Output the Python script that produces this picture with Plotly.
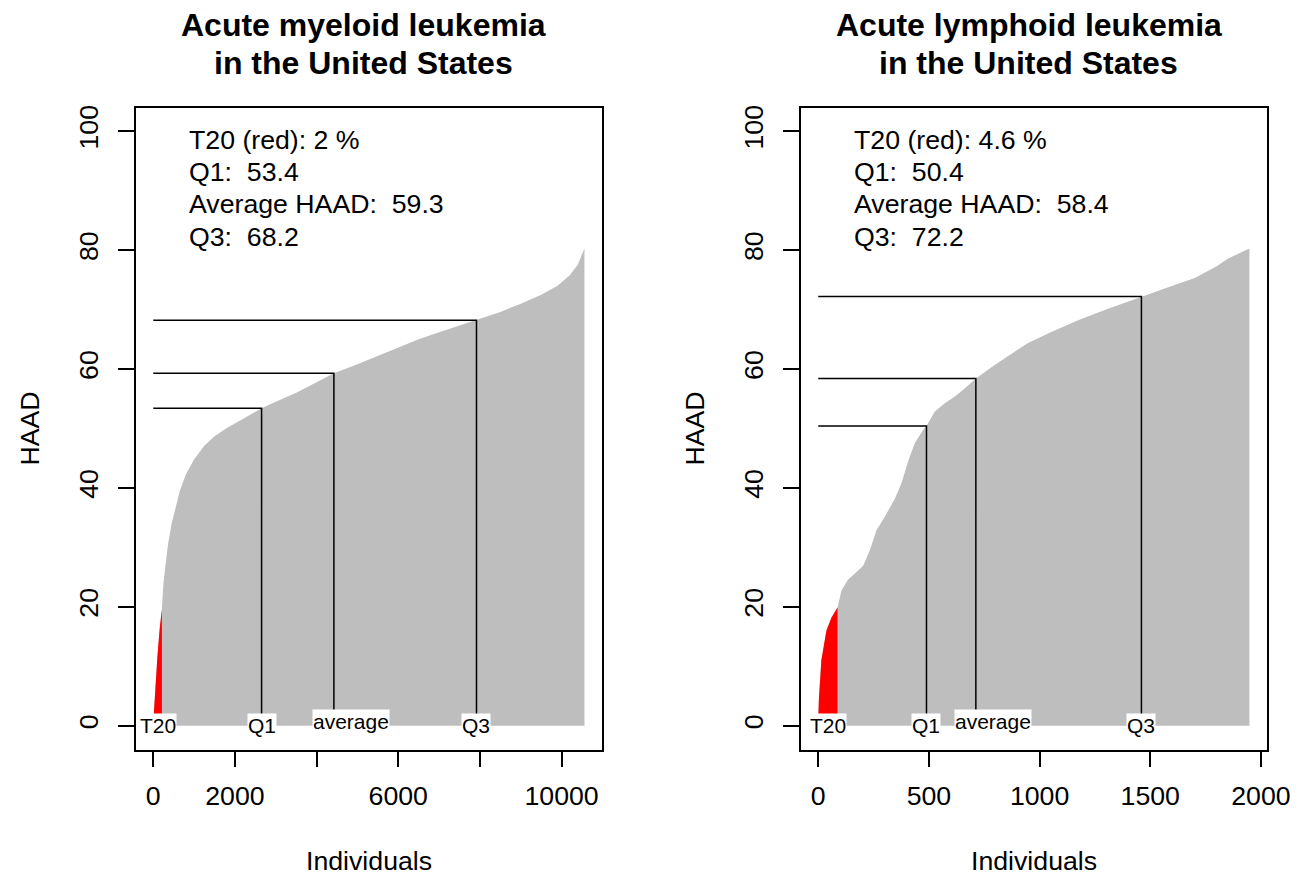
import plotly.graph_objects as go

# ---------------- data ----------------
aml_individuals = [0, 50, 100, 160, 211, 250, 300, 360, 450, 550, 650, 800, 1000, 1250, 1500,
                   1800, 2100, 2400, 2653, 3000, 3500, 4000, 4424, 5000, 5500, 6000, 6500, 7000,
                   7500, 7916, 8500, 9000, 9500, 9900, 10200, 10400, 10560]
aml_haad = [0.5, 6.5, 11.5, 16.5, 19.5, 24, 27.5, 30.5, 34, 37, 39.5, 42.3, 44.8, 47.1, 48.7,
            50.1, 51.3, 52.4, 53.4, 54.5, 56, 57.8, 59.3, 60.8, 62.2, 63.6, 65, 66.2,
            67.3, 68.2, 69.6, 71, 72.5, 74, 75.8, 77.6, 80.3]

all_individuals = [0, 3, 14, 37, 60, 87, 105, 135, 172, 203, 233, 263, 300, 346, 376, 406, 436,
                   474, 489, 526, 570, 617, 660, 712, 797, 860, 948, 1050, 1174, 1300, 1460,
                   1600, 1701, 1800, 1852, 1900, 1948]
all_haad = [1, 4.5, 11, 16, 18.2, 19.9, 22.8, 24.6, 25.8, 26.9, 29.5, 32.9, 35.1, 38.2, 40.8,
            44.5, 47.5, 49.8, 50.4, 52.8, 54.2, 55.4, 56.7, 58.4, 60.7, 62.3, 64.4, 66.2, 68.2,
            70, 72.2, 74, 75.3, 77.3, 78.6, 79.5, 80.3]

titles = ["Acute myeloid leukemia", "Acute lymphoid leukemia"]
subtitle = "in the United States"
n_total = [10560, 1948]
t20_count = [211, 87]
t20_pct = ["2", "4.6"]
q1_x = [2653, 489]
q1_val = [53.4, 50.4]
avg_x = [4424, 712]
avg_val = [59.3, 58.4]
q3_x = [7916, 1460]
q3_val = [68.2, 72.2]

x_tickvals = [[0, 2000, 4000, 6000, 8000, 10000], [0, 500, 1000, 1500, 2000]]
x_ticktext = [["0", "2000", "", "6000", "", "10000"], ["0", "500", "1000", "1500", "2000"]]
y_tickvals = [0, 20, 40, 60, 80, 100]
x_title = "Individuals"
y_title = "HAAD"

curves = [(aml_individuals, aml_haad), (all_individuals, all_haad)]

# ---------------- layout helpers ----------------
W, H = 1305, 875
FONT = "Liberation Sans, Arial, Helvetica, sans-serif"
GRAY = "#BEBEBE"
box_left = [136, 801]
box_right = [601.7, 1266.7]
box_top, box_bottom = 107.5, 749.5


def px(xp):
    return xp / W


def py(yp):
    return 1 - yp / H


fig = go.Figure()
annotations = []

for i in range(2):
    xa = "x" if i == 0 else "x2"
    ya = "y" if i == 0 else "y2"
    xs, ys = curves[i]

    # gray area
    fig.add_trace(go.Scatter(x=xs, y=ys, mode="lines", fill="tozeroy",
                             fillcolor=GRAY, line=dict(color=GRAY, width=0),
                             xaxis=xa, yaxis=ya, showlegend=False, hoverinfo="skip"))
    # red T20 area
    rx = [x for x in xs if x <= t20_count[i]]
    ry = [y for x, y in zip(xs, ys) if x <= t20_count[i]]
    fig.add_trace(go.Scatter(x=rx, y=ry, mode="lines", fill="tozeroy",
                             fillcolor="#FF0000", line=dict(color="#FF0000", width=0),
                             xaxis=xa, yaxis=ya, showlegend=False, hoverinfo="skip"))
    # quantile lines
    lx, ly = [], []
    for qx, qv in [(q1_x[i], q1_val[i]), (avg_x[i], avg_val[i]), (q3_x[i], q3_val[i])]:
        lx += [0, qx, qx, None]
        ly += [qv, qv, 0, None]
    fig.add_trace(go.Scatter(x=lx, y=ly, mode="lines", line=dict(color="black", width=1.5),
                             xaxis=xa, yaxis=ya, showlegend=False, hoverinfo="skip"))

    # bottom labels
    lab_pos = [(t20_count[i] / 2, "T20", 0, 0), (q1_x[i], "Q1", 0, 0),
               (avg_x[i], "average", 17, 4), (q3_x[i], "Q3", 0, 0)]
    for xv, txt, xs_, ys_ in lab_pos:
        annotations.append(dict(x=xv, y=0, xref=xa, yref=ya, text=txt, showarrow=False,
                                xanchor="center", yanchor="middle", xshift=xs_, yshift=ys_,
                                bgcolor="white", borderpad=0,
                                font=dict(family=FONT, size=21, color="black")))

    # info text
    info = [f"T20 (red): {t20_pct[i]} %",
            f"Q1:\u00a0 {q1_val[i]}",
            f"Average HAAD:\u00a0 {avg_val[i]}",
            f"Q3:\u00a0 {q3_val[i]}"]
    for k, line in enumerate(info):
        annotations.append(dict(x=px(box_left[i] + 50.5), y=py(140 + 32.2 * k), xref="paper",
                                yref="paper", text=line, showarrow=False, xanchor="left",
                                yanchor="middle",
                                font=dict(family=FONT, size=26.7, color="black")))

    cx = (box_left[i] + box_right[i]) / 2
    # titles
    annotations.append(dict(x=px(cx - 5), y=py(25), xref="paper", yref="paper",
                            text=f"<b>{titles[i]}</b>", showarrow=False, xanchor="center",
                            yanchor="middle", font=dict(family=FONT, size=32, color="black")))
    annotations.append(dict(x=px(cx - 5), y=py(63), xref="paper", yref="paper",
                            text=f"<b>{subtitle}</b>", showarrow=False, xanchor="center",
                            yanchor="middle", font=dict(family=FONT, size=32, color="black")))
    # axis titles
    annotations.append(dict(x=px(cx), y=py(861), xref="paper", yref="paper",
                            text=x_title, showarrow=False, xanchor="center", yanchor="middle",
                            font=dict(family=FONT, size=26.7, color="black")))
    annotations.append(dict(x=px(box_left[i] - 107), y=py((box_top + box_bottom) / 2),
                            xref="paper", yref="paper", text=y_title, showarrow=False,
                            textangle=-90, xanchor="center", yanchor="middle",
                            font=dict(family=FONT, size=26.7, color="black")))

axis_common = dict(showline=True, mirror=True, linecolor="black", linewidth=1.5,
                   ticks="outside", ticklen=16, tickwidth=1.5, tickcolor="black",
                   showgrid=False, zeroline=False, automargin=False,
                   tickfont=dict(family=FONT, size=26.7, color="black"))

layout_axes = {}
for i in range(2):
    sfx = "" if i == 0 else "2"
    N = n_total[i]
    layout_axes["xaxis" + sfx] = dict(
        domain=[px(box_left[i]), px(box_right[i])], range=[-0.04 * N, 1.04 * N],
        tickmode="array", tickvals=x_tickvals[i], ticktext=x_ticktext[i],
        anchor="y" + sfx, ticklabelstandoff=6, **axis_common)
    layout_axes["yaxis" + sfx] = dict(
        domain=[py(box_bottom), py(box_top)], range=[-4, 104],
        tickmode="array", tickvals=y_tickvals, tickangle=-90,
        anchor="x" + sfx, ticklabelstandoff=10, **axis_common)

fig.update_layout(width=W, height=H, autosize=False, margin=dict(l=0, r=0, t=0, b=0, pad=0),
                  template="none",
                  paper_bgcolor="white", plot_bgcolor="white",
                  annotations=annotations, showlegend=False, **layout_axes)

post = ("document.documentElement.style.overflow='hidden';"
        "document.body.style.margin='0px';"
        "document.body.style.overflow='hidden';")

fig.write_html("out.html", config={"displayModeBar": False, "responsive": False},
               post_script=post)
